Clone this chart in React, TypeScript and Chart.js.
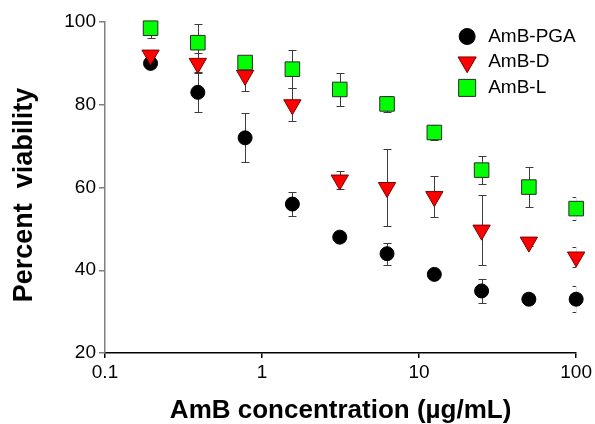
import React, { useEffect, useRef } from 'react';
import { Chart, registerables } from 'chart.js';

Chart.register(...registerables);

const FONT = 'Liberation Sans, Arial, Helvetica, sans-serif';

// Data
const concentrations = [0.195, 0.39, 0.78, 1.56, 3.125, 6.25, 12.5, 25, 50, 100];
const pgaMean = [90, 83, 72, 56, 48, 44, 39, 35, 33, 33];
const pgaErr = [1.2, 4.8, 5.9, 3, 1.2, 2.7, 1.2, 3, 1.2, 3.1];
const dMean = [92, 90, 87.1, 80, 61.8, 60, 57.8, 49.7, 46.8, 43.2];
const dErr = [1, 2.4, 3.7, 4, 2.1, 9.3, 5, 8.5, 1, 2.5];
const lMean = [98.5, 95, 90.2, 88.6, 83.7, 80.2, 73.3, 64.2, 60.1, 54.9];
const lErr = [2.4, 4.5, 1, 4.6, 4, 2, 1.8, 3.3, 4.8, 2.7];
const seriesNames = ['AmB-PGA', 'AmB-D', 'AmB-L'];
const xTicks = [0.1, 1, 10, 100];
const yTicks = [20, 40, 60, 80, 100];

const toPoints = (ys: number[]) => concentrations.map((x, i) => ({ x, y: ys[i] }));

const styles = [
  { pointStyle: 'circle', radius: 7, fill: '#000000', stroke: '#000000', rotation: 0 },
  { pointStyle: 'triangle', radius: 10, fill: '#ff0000', stroke: '#7a0000', rotation: 180 },
  { pointStyle: 'rect', radius: 10.3, fill: '#00ff00', stroke: '#2a2a2a', rotation: 0 },
];

const errorBarPlugin = {
  id: 'errorBars',
  beforeDatasetsDraw(chart: any) {
    const { ctx, chartArea, scales } = chart;
    ctx.save();
    ctx.beginPath();
    ctx.rect(chartArea.left, chartArea.top, chartArea.right - chartArea.left, chartArea.bottom - chartArea.top);
    ctx.clip();
    ctx.strokeStyle = '#3c3c3c';
    ctx.lineWidth = 1;
    chart.data.datasets.forEach((ds: any) => {
      const errs: number[] = ds.errors;
      ds.data.forEach((p: any, i: number) => {
        const e = errs[i];
        if (!e) return;
        const x = Math.round(scales.x.getPixelForValue(p.x)) + 0.5;
        const yT = Math.round(scales.y.getPixelForValue(p.y + e)) + 0.5;
        const yB = Math.round(scales.y.getPixelForValue(p.y - e)) + 0.5;
        ctx.beginPath();
        ctx.moveTo(x, yT);
        ctx.lineTo(x, yB);
        ctx.moveTo(x - 4, yT);
        ctx.lineTo(x + 4, yT);
        ctx.moveTo(x - 4, yB);
        ctx.lineTo(x + 4, yB);
        ctx.stroke();
      });
    });
    ctx.restore();
  },
};

function drawMarker(ctx: CanvasRenderingContext2D, kind: string, x: number, y: number, size: number, fill: string, stroke: string) {
  ctx.beginPath();
  if (kind === 'circle') {
    ctx.arc(x, y, size, 0, Math.PI * 2);
  } else if (kind === 'triangle') {
    const w = size * Math.sqrt(3) / 2;
    ctx.moveTo(x - w, y - size / 2);
    ctx.lineTo(x + w, y - size / 2);
    ctx.lineTo(x, y + size);
    ctx.closePath();
  } else {
    ctx.rect(x - size, y - size, size * 2, size * 2);
  }
  ctx.fillStyle = fill;
  ctx.fill();
  ctx.lineWidth = 1;
  ctx.strokeStyle = stroke;
  ctx.stroke();
}

const legendPlugin = {
  id: 'insideLegend',
  afterDraw(chart: any) {
    const { ctx, chartArea } = chart;
    ctx.save();
    const mx = chartArea.right - 109;
    const tx = chartArea.right - 88;
    const sizes = [8, 10.5, 8.5];
    seriesNames.forEach((name, i) => {
      const y = chartArea.top + 14.5 + i * 25.7;
      const st = styles[i];
      drawMarker(ctx, st.pointStyle, mx, y, sizes[i], st.fill, st.stroke);
      ctx.fillStyle = '#000';
      ctx.font = `19px ${FONT}`;
      ctx.textAlign = 'left';
      ctx.textBaseline = 'middle';
      ctx.fillText(name, tx, y);
    });
    ctx.restore();
  },
};

export default function App() {
  const ref = useRef<HTMLCanvasElement>(null);
  useEffect(() => {
    if (!ref.current) return;
    const means = [pgaMean, dMean, lMean];
    const errs = [pgaErr, dErr, lErr];
    const chart = new Chart(ref.current, {
      type: 'scatter',
      data: {
        datasets: seriesNames.map((name, i) => ({
          label: name,
          data: toPoints(means[i]),
          errors: errs[i],
          pointStyle: styles[i].pointStyle,
          pointRadius: styles[i].radius,
          pointRotation: styles[i].rotation,
          backgroundColor: styles[i].fill,
          borderColor: styles[i].stroke,
          pointBorderWidth: 1,
          showLine: false,
          clip: false,
          order: 3 - i,
        })) as any,
      },
      options: {
        responsive: false,
        animation: false,
        events: [],
        layout: { padding: { top: 22, right: 18, left: 0, bottom: 0 } },
        plugins: { legend: { display: false }, tooltip: { enabled: false } },
        scales: {
          x: {
            type: 'logarithmic',
            min: 0.1,
            max: 100,
            afterBuildTicks: (s: any) => {
              s.ticks = xTicks.map((v) => ({ value: v }));
            },
            afterFit: (s: any) => {
              s.height = 71;
            },
            grid: { display: true, drawOnChartArea: false, drawTicks: true, tickLength: 5, color: '#000', lineWidth: 1.5 },
            border: { display: true, color: '#000', width: 1.5 },
            ticks: {
              color: '#000',
              font: { family: FONT, size: 19 },
              padding: 3,
              autoSkip: false,
              maxRotation: 0,
              callback: (v: any) => String(v),
            },
            title: {
              display: true,
              text: 'AmB concentration (µg/mL)',
              color: '#000',
              font: { family: FONT, size: 26, weight: 'bold', lineHeight: 1 },
              padding: { top: 0, bottom: 0 },
            },
          },
          y: {
            type: 'linear',
            min: 20,
            max: 100,
            afterBuildTicks: (s: any) => {
              s.ticks = yTicks.map((v) => ({ value: v }));
            },
            afterFit: (s: any) => {
              s.width = 105;
            },
            grid: { display: true, drawOnChartArea: false, drawTicks: true, tickLength: 6, color: '#808080', lineWidth: 1.5 },
            border: { display: true, color: '#808080', width: 1.5 },
            ticks: {
              color: '#000',
              font: { family: FONT, size: 19 },
              padding: 3,
              callback: (v: any) => String(v),
            },
            title: {
              display: true,
              text: 'Percent  viability  ',
              color: '#000',
              font: { family: FONT, size: 27, weight: 'bold', lineHeight: 1 },
              padding: { top: 11, bottom: 0 },
            },
          },
        },
      } as any,
      plugins: [errorBarPlugin, legendPlugin],
    });
    return () => chart.destroy();
  }, []);
  return (
    <div style={{ position: 'absolute', left: 0, top: 0, width: 595, height: 424, background: '#fff' }}>
      <canvas ref={ref} width={595} height={424} style={{ display: 'block' }} />
    </div>
  );
}
